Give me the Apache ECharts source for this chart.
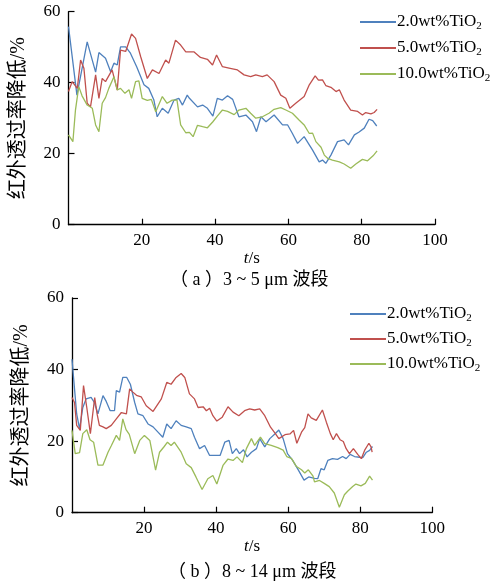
<!DOCTYPE html>
<html><head><meta charset="utf-8">
<script src="https://cdn.jsdelivr.net/npm/echarts@6/dist/echarts.min.js"></script>
<style>html,body{margin:0;padding:0;background:#fff}#c{width:504px;height:583px}</style>
</head><body><div id="c"></div>
<script>
// ---- data (a) 3~5 μm ----
const seriesNames = ['2.0wt%TiO2', '5.0wt%TiO2', '10.0wt%TiO2'];
const xTicks = [20, 40, 60, 80, 100];
const yTicks = [0, 20, 40, 60];

const a_t_20 = [0,2.3,5.1,7.4,8.3,10.1,11.5,12.4,13.3,14.2,15.6,16.9,18.6,20.6,21.9,23.3,24.2,25.6,27.2,28.8,30.1,31.1,32.4,33,35.2,36.6,37.9,39.4,40.6,42,43.4,44.8,46.5,48.4,50.2,51.3,52.5,53.9,56.1,58.4,59.8,61.1,62.5,64.3,65.7,66.6,68.4,69.3,70.2,71.6,73.4,75.2,76.4,78,79.3,80.7,82,83,84.1];
const a_v_20 = [55.8,36.5,51.5,43,48.5,46.9,43.1,45.5,45,50.1,50.1,48.3,44.5,39.4,38.4,35.1,30.4,32.8,31.4,35.1,35.6,33.7,36.5,35.6,33.2,33.7,32.8,30.6,35.6,35.1,36.3,35.3,30.4,30.9,29,26.2,30.4,29,30.9,28.1,28.1,25.7,22.9,24.8,22.5,21,17.7,18.2,17.3,19.6,23.4,23.9,22.5,25.3,26.1,27.2,29.7,29.3,27.8];

const a_t_50 = [0,1,2.4,3.3,4.2,5.1,6,7.4,8.3,9.2,10.1,11.9,13.3,14.2,15.6,17.2,18.3,19.7,21.5,22.9,24.7,26.5,27.4,29.2,30.6,32,34.2,36,37.9,39.3,40.4,42,43.8,46.1,47.9,49.7,51.1,52.9,54.2,56.1,57.9,59.3,60.4,62,64.3,65.7,67.3,68.2,69.3,70.2,71.6,73,73.9,75.2,77,78.9,80.2,81.1,82.5,83.4,84.2];
const a_v_50 = [37.5,40.3,38.4,46.4,44.1,34.2,33.2,42.2,35.6,41.2,40.3,43.6,37.9,49.2,48.8,53.7,52.5,47.3,41.2,43.6,42.6,46.4,45.5,52,50.6,48.7,48.7,47.1,46.6,45,47.8,44.5,44.1,43.6,42.2,41.7,42.2,41.7,42.2,40.3,36.5,35.6,32.8,34.2,36.1,39.4,41.9,40.7,40.8,39.2,38.7,37.5,38,35.1,32.3,31.9,30.9,31.6,31.2,31.6,32.5];

const a_t_100 = [0,1.2,1.9,2.8,3.7,5.1,6.5,7.4,8.3,9.2,10.1,11,12.4,13.3,14.2,15.4,16.5,17.2,18.3,19.2,20.1,21.5,22.6,23.8,25.6,26.9,28.3,29.6,30.6,32,33,34,35.2,36.6,37.9,39.4,40.6,42,43.4,45.2,46.5,48.4,49.7,51.1,52.9,54.7,56.1,57.9,59.3,61.1,62.9,64.3,65.7,66.6,67.5,68.9,69.8,70.7,72,73.9,75.2,77,78.4,80.2,81.6,83.1,84.2];
const a_v_100 = [25.3,23.4,32.3,38.9,36.3,33.7,32.8,28.1,26.2,34.2,35.8,38.4,41.7,38,38.4,37,38,35.6,40.3,40.5,35.6,35,35.3,31.8,36.1,34.2,35.1,35.1,28.1,25.9,26,24.8,28,27.6,27.3,29,30.6,32.3,31.9,31,32.3,32.8,31.4,30,30.4,31.4,32.5,33,32.3,31.4,29.5,28.1,25.7,25.8,23.4,21.8,19.6,18.7,18.2,17.7,17.1,15.9,17.1,18.4,18,19.4,20.8];

// ---- data (b) 8~14 μm ----
const b_t_20 = [0,0.7,1.3,2.1,3,3.9,5.3,6.2,7.2,8.6,9.5,10.6,11.8,12.3,13.2,14.1,15.2,16.2,17.4,18.3,19.7,21.1,22.5,23.8,25.2,26.3,27.5,28.9,30.3,31.7,33.1,34,35.4,36.8,38.2,39.5,41.1,42.4,43.6,44.5,45.6,46.5,47.6,48.6,49.8,51.2,52.1,53.5,54.9,56.3,57.4,58.6,59.8,61.2,62.6,64.4,65.7,67.3,68.2,69.1,70,71,72.3,73.7,75.1,76.1,77.2,78.4,79.8,80.7,81.7,82.6,83.4];
const b_v_20 = [42.9,34.6,27.6,23.4,29.4,31.8,32.2,30.8,27.6,32.7,31.1,28.5,28.5,34.1,33.7,37.8,37.8,35.9,30.8,27.6,27.1,24.8,24,22.6,21.1,24.8,23.5,25.7,24.4,24,23.5,21.1,17.9,18.8,16,16,16,19.7,20.2,16.5,17.9,16.5,17.6,15.6,16.9,17.9,20.7,18.4,20.7,22,23.1,20.7,16.5,14.7,12.3,9.1,10,9.6,9.5,12.3,12,14.6,15.1,14.9,15.7,15.1,16.3,15.7,15.5,15.4,16.9,17.4,18.5];

const b_t_50 = [0,0.7,1.3,2.3,3.2,4.1,5.1,6.3,7,7.6,8.6,9.5,10.9,12.3,13.7,15.1,16,16.9,17.9,19.2,20.6,22.5,24.8,26.3,27.5,28.9,30.3,31.3,32.6,34,35,36.4,37.3,38.2,39.1,40.2,41.7,43.3,44.7,46.3,47.9,49.3,50.7,52.1,53.5,55.1,56.5,57.4,59.1,60.5,61.5,62.4,63.7,64.6,65.5,66.4,66.9,67.8,69.5,70.6,71.7,72.5,73.4,74.4,75.3,76.1,77,78.1,79.3,80.3,81.2,82.4,83,83.3];
const b_v_50 = [32.2,30.8,24.4,23,35.5,29.4,22.1,32.2,27.4,24.4,24,23.5,24.4,26.2,28,27.6,34.6,33.7,32.8,32.4,29.9,28.3,31.8,36.4,35.9,37.8,38.9,37.8,33.2,31.8,29.4,29.6,28.5,29.2,27.1,25.6,26.7,29.6,28.1,27.1,28.5,29,28.7,29,27.1,23.9,22,20.7,21.8,22,23,19.4,22.5,23.8,27.6,26.5,26.2,25.8,28.7,25.3,22.1,20.4,22.1,20.4,19.9,17.9,16.5,17.9,16.3,15.1,17.4,19.4,18.4,16.9];

const b_t_100 = [0,0.9,2.1,3,4.1,5,6,7.2,8.6,10,10.9,12.3,13.2,14.1,15,15.9,17.4,18.8,20.1,21.6,23.2,24.3,25.6,26.5,27.5,28.4,30.3,31.7,33.1,34.4,36.1,37.7,39.1,40.2,41.9,43.3,44.7,45.8,47.3,48.4,49.8,50.7,52.3,53.5,55.3,57.1,58.6,59.6,60.9,62.3,63.7,64.6,65.6,66.9,67.3,68.7,70,71.4,72.8,74.2,75.6,76.5,77.9,78.8,80.2,81.4,82.6,83.4];
const b_v_100 = [23,16.5,16.8,22.1,23.2,20.4,19.7,13.3,13.3,16.9,18.7,21.6,20.2,26.2,23.2,21.9,16.5,20.2,21.6,20.2,11.9,16.9,18.5,19.7,18.8,19.7,16.9,13.7,12.6,10,6.5,9.5,10.4,8,13.2,15,14.6,15.6,14,17.9,20.7,18.8,21.1,19.3,18.8,18.2,17.5,15.7,15.2,12.9,12,11.1,12,10.2,8.6,9,8.2,7.3,5.5,1.5,5,6,7.3,8,7.5,8.2,10.2,9.1];

const colors = ['#4f81bd', '#c0504d', '#9bbb59'];
const SERIF = '"Liberation Serif","Times New Roman","Noto Sans CJK SC",serif';

function zip(t, v) { return t.map((x, i) => [x, v[i]]); }

const chart = echarts.init(document.getElementById('c'), null, {renderer: 'canvas'});

function xAxisCfg(gi) {
  return {
    gridIndex: gi, type: 'value', min: 0, max: 100, interval: 20,
    axisLine: {show: true, onZero: false, lineStyle: {color: '#000', width: 1.3}},
    axisTick: {show: true, inside: true, length: 6, lineStyle: {color: '#000', width: 1.2}},
    axisLabel: {color: '#000', fontFamily: SERIF, fontSize: 17, margin: 7, showMinLabel: false},
    splitLine: {show: false},
    name: '{i|t}/s', nameLocation: 'middle', nameGap: 22,
    nameTextStyle: {color: '#000', fontFamily: SERIF, fontSize: 17,
      rich: {i: {fontStyle: 'italic', fontFamily: SERIF, fontSize: 17, color: '#000'}}}
  };
}
function yAxisCfg(gi) {
  return {
    gridIndex: gi, type: 'value', min: 0, max: 60, interval: 20,
    axisLine: {show: true, lineStyle: {color: '#000', width: 1.3}},
    axisTick: {show: true, inside: true, length: 6, lineStyle: {color: '#000', width: 1.2}},
    axisLabel: {color: '#000', fontFamily: SERIF, fontSize: 17, margin: 8},
    splitLine: {show: false},
    name: '红外透过率降低/%', nameLocation: 'middle', nameRotate: 90, nameGap: 40,
    nameTextStyle: {color: '#000', fontFamily: SERIF, fontSize: 20}
  };
}
function lineSeries(name, gi, data, color) {
  return {
    name: name, type: 'line', xAxisIndex: gi, yAxisIndex: gi,
    data: data, showSymbol: false, symbol: 'none', smooth: false, animation: false,
    lineStyle: {color: color, width: 1.3}, itemStyle: {color: color}
  };
}
function legendCfg(left, top, gap) {
  return {
    orient: 'vertical', left: left, top: top, padding: 0, itemGap: gap, itemWidth: 36, itemHeight: 2,
    icon: 'rect', data: seriesNames, selectedMode: false,
    formatter: n => n.replace('TiO2', 'TiO{s|2}'),
    textStyle: {color: '#000', fontFamily: SERIF, fontSize: 17, lineHeight: 20, padding: [0, 0, 0, -4],
      rich: {s: {fontFamily: SERIF, fontSize: 11, verticalAlign: 'bottom', padding: [6, 0, 0, 0], color: '#000'}}}
  };
}

const option = {
  backgroundColor: '#fff',
  animation: false,
  grid: [
    {left: 68.5, top: 11.7, width: 366.5, height: 213},
    {left: 72, top: 298, width: 360.3, height: 214.7}
  ],
  xAxis: [xAxisCfg(0), xAxisCfg(1)],
  yAxis: [yAxisCfg(0), yAxisCfg(1)],
  legend: [legendCfg(360, 12, 6), legendCfg(350, 304, 5)],
  series: [
    lineSeries(seriesNames[0], 0, zip(a_t_20, a_v_20), colors[0]),
    lineSeries(seriesNames[1], 0, zip(a_t_50, a_v_50), colors[1]),
    lineSeries(seriesNames[2], 0, zip(a_t_100, a_v_100), colors[2]),
    lineSeries(seriesNames[0], 1, zip(b_t_20, b_v_20), colors[0]),
    lineSeries(seriesNames[1], 1, zip(b_t_50, b_v_50), colors[1]),
    lineSeries(seriesNames[2], 1, zip(b_t_100, b_v_100), colors[2])
  ],
  graphic: [
    {type: 'text', left: 170, top: 271, style: {text: '（ a ）3 ~ 5 μm 波段', font: '18px ' + SERIF, fill: '#000'}},
    {type: 'text', left: 168, top: 563, style: {text: '（ b ）8 ~ 14 μm 波段', font: '18px ' + SERIF, fill: '#000'}}
  ]
};
chart.setOption(option);
</script></body></html>
